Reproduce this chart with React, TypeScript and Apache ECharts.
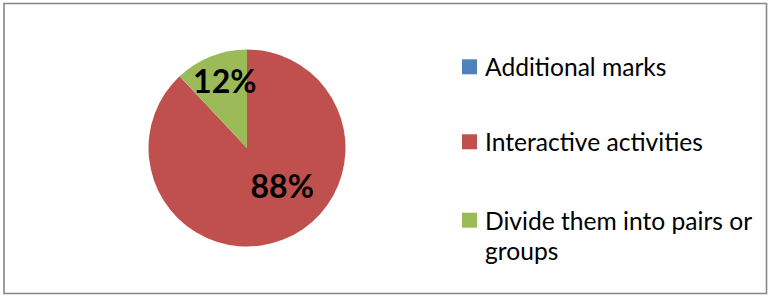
import React, { useEffect, useRef } from "react";
import * as echarts from "echarts";

const categories = ["Additional marks", "Interactive activities", "Divide them into pairs or groups"];
const legendLabels = ["Additional marks", "Interactive activities", "\nDivide them into pairs or\ngroups"];
const values = [0, 88, 12];
const colors = ["#4F81BD", "#C0504D", "#9BBB59"];

export default function App() {
  const ref = useRef<HTMLDivElement>(null);
  useEffect(() => {
    document.body.style.margin = "0";
    const chart = echarts.init(ref.current!, undefined, { renderer: "svg" });
    const font = "Lato, 'Liberation Sans', sans-serif";
    const legendTops = [51.8, 126.8, 175.2];
    const labelOffsets: [number, number][] = [[0, 0], [16, -11], [-3, -19]];
    const option: any = {
      animation: false,
      backgroundColor: "#ffffff",
      graphic: [
        {
          type: "rect",
          shape: { x: 4, y: 3.5, width: 762.5, height: 290 },
          style: { fill: "none", stroke: "#868686", lineWidth: 1.6 },
          silent: true,
        },
      ],
      legend: categories.map((name, i) => ({
        orient: "vertical",
        left: 462,
        top: legendTops[i],
        padding: 0,
        itemWidth: 15,
        itemHeight: 15,
        icon: "rect",
        selectedMode: false,
        data: [name],
        formatter: () => legendLabels[i],
        textStyle: {
          fontFamily: font,
          fontSize: 24.6,
          color: "#000000",
          lineHeight: 30,
          padding: [0, 0, 0, 3],
        },
      })),
      series: [
        {
          type: "pie",
          center: [247, 148],
          radius: 98.5,
          startAngle: 90,
          clockwise: true,
          avoidLabelOverlap: false,
          label: {
            show: true,
            position: "inside",
            formatter: "{d}%",
            fontFamily: font,
            fontWeight: "bold",
            fontSize: 32,
            color: "#000000",
          },
          labelLine: { show: false },
          itemStyle: { borderWidth: 0 },
          emphasis: { disabled: true },
          data: categories.map((name, i) => ({
            name,
            value: values[i],
            itemStyle: { color: colors[i] },
            label: values[i] === 0 ? { show: false } : { offset: labelOffsets[i] },
          })),
        },
      ],
    };
    chart.setOption(option);
    return () => chart.dispose();
  }, []);
  return <div ref={ref} style={{ width: 768, height: 296 }} />;
}
